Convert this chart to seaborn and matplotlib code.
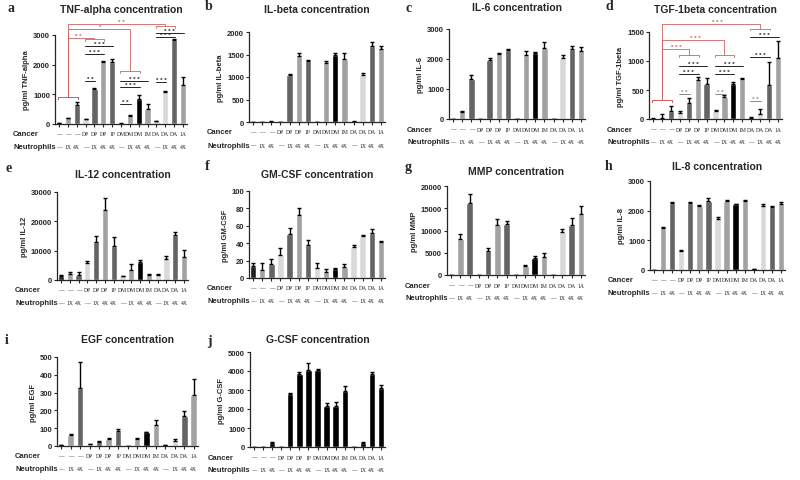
import numpy as np
import pandas as pd
import seaborn as sns
import matplotlib.pyplot as plt

# group labels under every panel
cancer = ['—', '—', '—', 'DP', 'DP', 'DP', '1P', 'DM', 'DM', 'DM', '1M', 'DA', 'DA', 'DA', '1A']
neutrophils = ['—', '1X', '4X', '—', '1X', '4X', '4X', '—', '1X', '4X', '4X', '—', '1X', '4X', '4X']

# values (mean, upper error)
tnf = [30, 200, 650, 160, 1180, 2080, 2080, 15, 280, 850, 490, 90, 1080, 2820, 1300]
tnf_err = [10, 15, 80, 20, 40, 60, 100, 5, 20, 120, 200, 10, 20, 30, 300]
il1b = [0, 0, 10, 0, 1050, 1470, 1350, 0, 1320, 1480, 1410, 10, 1050, 1700, 1620]
il1b_err = [0, 0, 10, 0, 20, 70, 30, 0, 40, 60, 130, 5, 50, 70, 80]
il6 = [0, 250, 1350, 10, 1980, 2170, 2290, 0, 2150, 2200, 2380, 0, 2020, 2320, 2270]
il6_err = [0, 20, 130, 0, 50, 20, 40, 0, 110, 30, 200, 0, 130, 100, 120]
tgf = [5, 20, 130, 110, 280, 680, 610, 130, 380, 600, 690, 25, 90, 580, 1050]
tgf_err = [5, 60, 100, 30, 90, 40, 90, 20, 30, 40, 15, 10, 80, 400, 300]
il12 = [1400, 2000, 1800, 5800, 13000, 24000, 11500, 1200, 3500, 6000, 1700, 1800, 7300, 15300, 8000]
il12_err = [300, 700, 1000, 800, 2000, 4000, 3000, 200, 1800, 900, 300, 300, 800, 1000, 2300]
gmcsf = [14, 9, 16, 26, 51, 72, 38, 12, 7, 10, 13, 36, 48, 52, 41]
gmcsf_err = [3, 8, 6, 8, 6, 8, 6, 5, 3, 1, 3, 2, 2, 4, 1]
mmp = [0, 8200, 16200, 0, 5400, 11300, 11500, 0, 2100, 3800, 4100, 0, 9700, 11200, 13600]
mmp_err = [0, 1000, 2000, 0, 600, 1300, 700, 0, 200, 500, 900, 0, 600, 1500, 1900]
il8 = [10, 1430, 2260, 640, 2260, 2160, 2320, 1720, 2320, 2230, 2330, 30, 2160, 2130, 2220]
il8_err = [0, 30, 30, 30, 30, 40, 100, 60, 40, 10, 30, 5, 60, 40, 70]
egf = [5, 60, 325, 10, 25, 40, 85, 2, 40, 78, 120, 5, 30, 170, 285]
egf_err = [3, 5, 145, 3, 5, 5, 10, 0, 5, 3, 25, 3, 10, 25, 90]
gcsf = [10, 10, 200, 0, 2800, 3850, 4050, 4050, 2180, 2180, 2950, 10, 220, 3850, 3120]
gcsf_err = [0, 0, 80, 0, 30, 120, 350, 80, 120, 200, 280, 0, 20, 80, 120]

grays = ['#1e1e1e', '#a2a2a2', '#646464', '#d9d9d9', '#646464', '#a2a2a2', '#646464',
         '#d9d9d9', '#a2a2a2', '#000000', '#a2a2a2', '#d9d9d9', '#d9d9d9', '#646464', '#a2a2a2']
blacks = ['#000000'] * 15

sns.set_style('ticks')
plt.rcParams['font.family'] = ['Liberation Sans', 'DejaVu Sans']

fig = plt.figure(figsize=(8, 4.81), dpi=100)
W, H = 800, 481
px = 0.72  # points per pixel

# letter, title, ylabel, values, errors, yticks, axes box (px), colours, title y, letter xy
panels = [
    ('a', 'TNF-alpha concentration', 'pg/ml TNF-alpha', tnf, tnf_err, [0, 1000, 2000, 3000], (55, 36, 187, 125), grays, 10, (7, 8)),
    ('b', 'IL-beta concentration', 'pg/ml IL-beta', il1b, il1b_err, [0, 500, 1000, 1500, 2000], (249, 33, 385, 123), grays, 10, (205, 7)),
    ('c', 'IL-6 concentration', 'pg/ml IL-6', il6, il6_err, [0, 1000, 2000, 3000], (449, 30, 585, 120), grays, 8, (405, 8)),
    ('d', 'TGF-1beta concentration', 'pg/ml TGF-1beta', tgf, tgf_err, [0, 500, 1000, 1500], (649, 33, 782, 120), grays, 10, (605, 7)),
    ('e', 'IL-12 concentration', 'pg/ml IL-12', il12, il12_err, [0, 10000, 20000, 30000], (57, 193, 188, 281), grays, 175, (5, 168)),
    ('f', 'GM-CSF concentration', 'pg/ml GM-CSF', gmcsf, gmcsf_err, [0, 20, 40, 60, 80, 100], (249, 192, 385, 279), grays, 175, (205, 167)),
    ('g', 'MMP concentration', 'pg/ml MMP', mmp, mmp_err, [0, 5000, 10000, 15000, 20000], (447, 187, 585, 276), grays, 172, (405, 167)),
    ('h', 'IL-8 concentration', 'pg/ml IL-8', il8, il8_err, [0, 1000, 2000, 3000], (650, 182, 785, 271), grays, 167, (605, 167)),
    ('i', 'EGF concentration', 'pg/ml EGF', egf, egf_err, [0, 100, 200, 300, 400, 500], (57, 358, 198, 447), grays, 340, (5, 340)),
    ('j', 'G-CSF concentration', 'pg/ml G-CSF', gcsf, gcsf_err, [0, 1000, 2000, 3000, 4000, 5000], (250, 353, 385, 448), blacks, 340, (207, 342)),
]

axes = {}
for letter, title, ylab, vals, errs, yt, (l, t, r, b), cols, ty, (lx, ly) in panels:
    ax = fig.add_axes([l / W, 1 - b / H, (r - l) / W, (b - t) / H])
    axes[letter] = ax
    keys = [f'k{i}' for i in range(15)]
    df = pd.DataFrame({'key': keys, 'val': vals})
    sns.barplot(data=df, x='key', y='val', hue='key', palette=dict(zip(keys, cols)),
                legend=False, width=0.7, saturation=1, ax=ax)
    ax.errorbar(range(15), vals, yerr=[np.zeros(15), errs], fmt='none', ecolor='black',
                elinewidth=1.0, capsize=1.5, capthick=1.0)
    ax.set_xlim(-0.45, 14.45)
    ax.set_ylim(0, yt[-1])
    ax.set_yticks(yt)
    ax.set_yticklabels([str(v) for v in yt], fontsize=5.5, fontweight='bold')
    ax.set_xticks(range(15))
    ax.set_xticklabels([])
    ax.tick_params(axis='x', length=2, width=0.8)
    ax.tick_params(axis='y', length=2.5, width=0.8, pad=1)
    ax.set_xlabel('')
    ax.set_ylabel(ylab, fontsize=5.5, fontweight='bold', labelpad=2)
    sns.despine(ax=ax)
    for s in ['left', 'bottom']:
        ax.spines[s].set_linewidth(0.9)
    fig.text((l + r) / 2 / W, 1 - ty / H, title, fontsize=7.5, fontweight='bold', ha='center', va='center')
    fig.text(lx / W, 1 - ly / H, letter, fontsize=10, fontweight='bold',
             family='Liberation Serif', va='center')
    tr = ax.get_xaxis_transform()
    for i in range(15):
        ax.annotate(cancer[i], xy=(i, 0), xycoords=tr, xytext=(0, -10 * px), textcoords='offset points',
                    ha='center', va='center', fontsize=4.1, family='Liberation Serif', annotation_clip=False)
        ax.annotate(neutrophils[i], xy=(i, 0), xycoords=tr, xytext=(0, -23 * px), textcoords='offset points',
                    ha='center', va='center', fontsize=4.1, family='Liberation Serif', annotation_clip=False)
    ax.annotate('Cancer', xy=(0, 0), xycoords='axes fraction', xytext=(-42 * px, -10 * px),
                textcoords='offset points', ha='left', va='center', fontsize=5.5, fontweight='bold')
    ax.annotate('Neutrophils', xy=(0, 0), xycoords='axes fraction', xytext=(-42 * px, -23 * px),
                textcoords='offset points', ha='left', va='center', fontsize=5.5, fontweight='bold')

red = '#d06060'


def group_link(ax, x_ctrl, y_ctrl, gx1, gx2, gy, top, star, sx, drop):
    # bracket over the control group and over the compared group, joined at the top
    for a, bb, y in [(0, 2, y_ctrl), (gx1, gx2, gy)]:
        ax.plot([a - 0.1, a - 0.1, bb + 0.1, bb + 0.1], [y - drop, y, y, y - drop],
                color=red, lw=0.6, clip_on=False)
    cx = (gx1 + gx2) / 2
    ax.plot([x_ctrl, x_ctrl, cx, cx], [y_ctrl, top, top, gy], color=red, lw=0.6, clip_on=False)
    ax.text(sx, top, star, color=red, fontsize=4.5, ha='center', va='bottom', fontweight='bold', clip_on=False)


def line_star(ax, x1, x2, y, star, color='#222222'):
    ax.plot([x1 - 0.1, x2 + 0.1], [y, y], color=color, lw=0.7, clip_on=False)
    ax.text((x1 + x2) / 2, y, star, color=color, fontsize=4.5, ha='center', va='bottom',
            fontweight='bold', clip_on=False)


# panel a significance marks
ax = axes['a']
group_link(ax, 1, 917, 3, 5, 2856, 2913, '* *', 2.2, 60)
group_link(ax, 1, 917, 7, 9, 1790, 3192, '*', 4.6, 60)
group_link(ax, 1, 917, 11, 13, 3293, 3383, '* *', 7.0, 60)
for x1, x2, y, s in [(3, 6, 2630, '* * *'), (3, 5, 2375, '* * *'), (3, 4, 1455, '* *'),
                     (7, 10, 1455, '* * *'), (7, 9, 1233, '* * *'), (7, 8, 672, '* *'),
                     (11, 14, 3080, '* * *'), (11, 13, 2933, '* * *'), (11, 12, 1400, '* * *')]:
    line_star(ax, x1, x2, y, s)

# panel d significance marks
ax = axes['d']
group_link(ax, 1, 329, 3, 5, 1095, 1211, '* * *', 2.6, 30)
group_link(ax, 1, 329, 7, 9, 1095, 1367, '* * *', 4.7, 30)
group_link(ax, 1, 329, 11, 13, 1557, 1644, '* * *', 7.2, 30)
for x1, x2, y, s, c in [(3, 6, 922, '* * *', '#222222'), (3, 5, 779, '* * *', '#222222'), (3, 4, 433, '* *', '#888888'),
                        (7, 10, 922, '* * *', '#222222'), (7, 9, 779, '* * *', '#222222'), (7, 8, 433, '* *', '#888888'),
                        (11, 14, 1413, '* * *', '#222222'), (11, 13, 1067, '* * *', '#222222'), (11, 12, 317, '* *', '#888888')]:
    line_star(ax, x1, x2, y, s, c)

fig.savefig('out.png', dpi=100, facecolor='white')
